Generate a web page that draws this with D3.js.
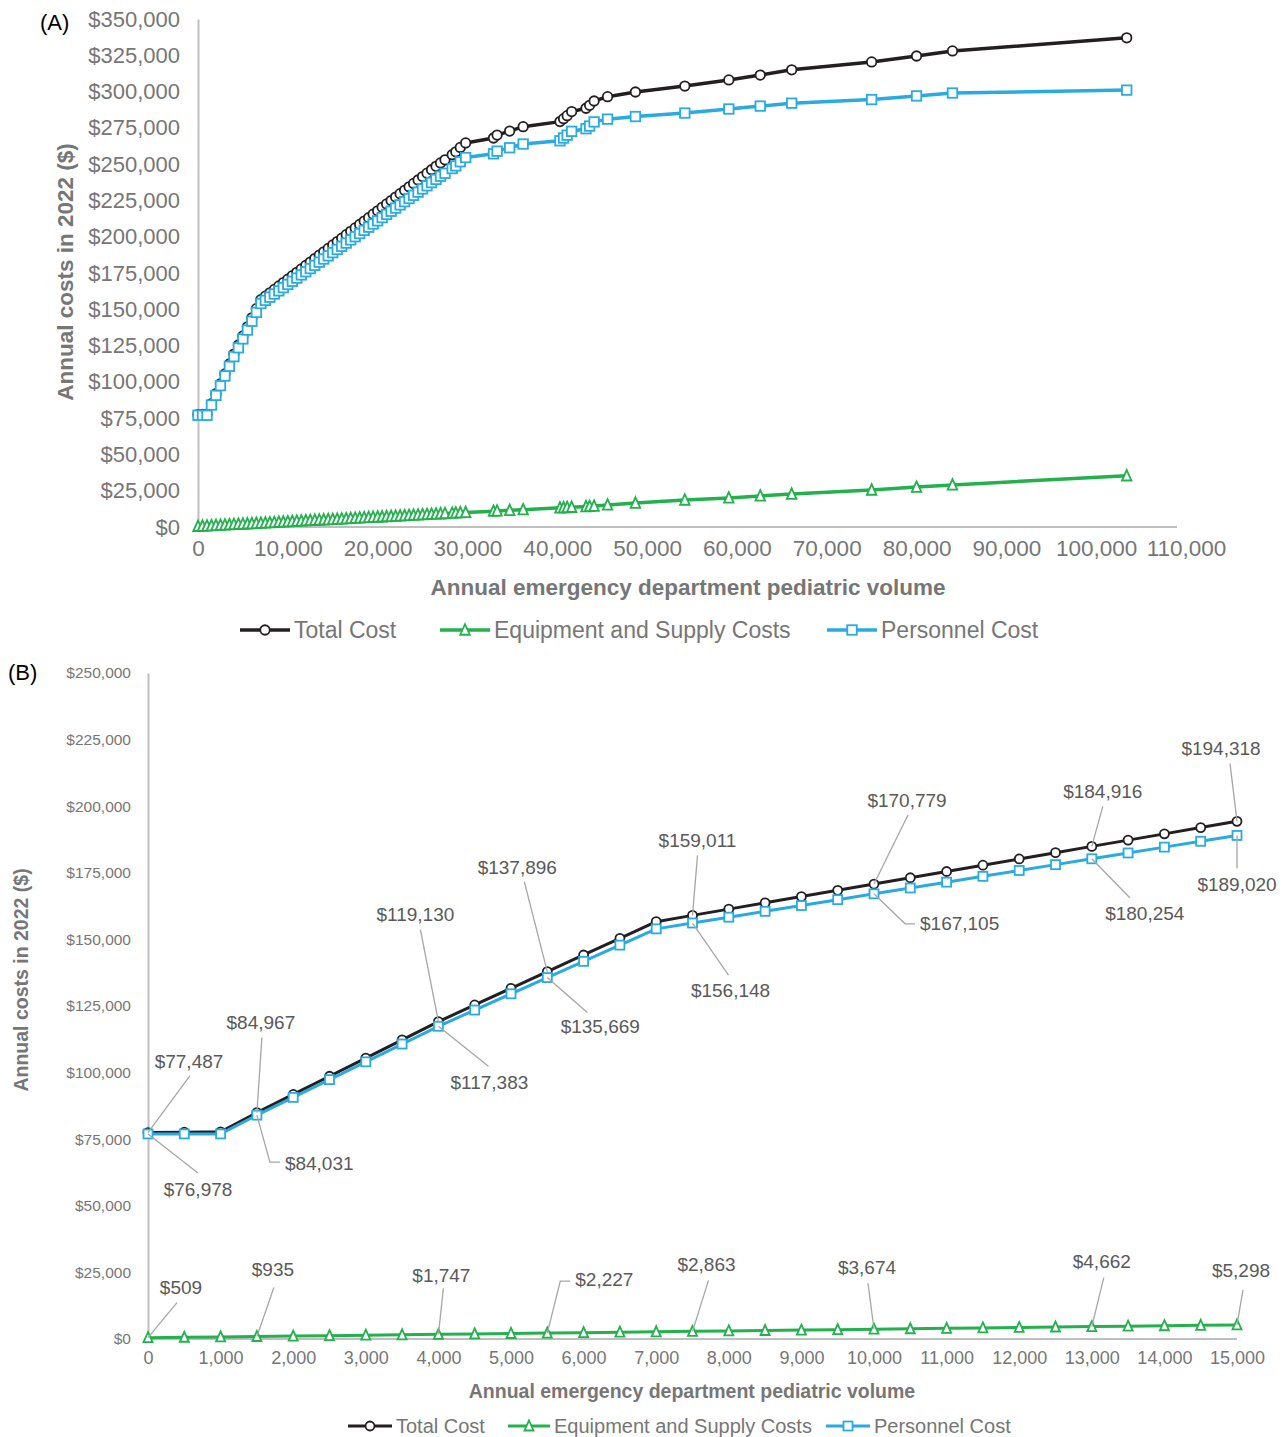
<!DOCTYPE html>
<html>
<head>
<meta charset="utf-8">
<script src="https://cdn.jsdelivr.net/npm/d3@7"></script>
<style>
  html, body { margin: 0; padding: 0; background: #fff; }
  svg { display: block; font-family: "Liberation Sans", Arial, sans-serif; }
</style>
</head>
<body>
<svg id="chart" width="1288" height="1437"></svg>
<script>
// ---------------- DATA ----------------
const seriesNames = ["Total Cost", "Equipment and Supply Costs", "Personnel Cost"];

// Panel B (0 - 15,000, every 500)
const volumeB = [0,500,1000,1500,2000,2500,3000,3500,4000,4500,5000,5500,6000,6500,7000,7500,
  8000,8500,9000,9500,10000,10500,11000,11500,12000,12500,13000,13500,14000,14500,15000];
const totalB = [77487,77629,77771,84967,91800,98630,105460,112300,119130,125385,131640,137896,
  144150,150400,156657,159011,161365,163720,166070,168425,170779,173135,175490,177845,180200,
  182560,184916,187266,189617,191967,194318];
const equipB = [509,651,793,935,1097,1260,1422,1585,1747,1907,2067,2227,2386,2545,2704,2863,
  3025,3187,3350,3512,3674,3839,4003,4168,4333,4497,4662,4821,4980,5139,5298];
const personnelB = [76978,76978,76978,84031,90703,97370,104038,110715,117383,123478,129573,
  135669,141764,147855,153953,156148,158340,160533,162720,164913,167105,169296,171487,173677,
  175867,178063,180254,182445,184637,186828,189020];

// Panel A continues the same series beyond 15,000
const volumeAExtra = [15500,16000,16500,17000,17500,18000,18500,19000,19500,20000,20500,21000,
  21500,22000,22500,23000,23500,24000,24500,25000,25500,26000,26500,27000,
  27500,28300,28700,29200,29800,32900,33300,34700,36200,40300,40700,41100,41600,43200,43600,
  44100,45600,48700,54200,59100,62600,66100,75000,80000,84000,103400];
const totalAExtra = [196670,199020,201380,203730,206090,208440,210800,213150,215510,217860,
  220220,222570,224930,227280,229640,231990,234350,236700,239060,241410,243770,246120,248480,
  250830,
  253000,256500,258500,261500,264600,268000,270000,272800,275800,279300,281300,283400,286200,
  288500,290500,293500,296500,299700,303800,308000,311400,315000,320400,324500,328000,337000];
const equipAExtra = [5458,5618,5778,5938,6098,6258,6418,6578,6738,6898,7058,7218,7378,7538,
  7698,7858,8018,8178,8338,8498,8658,8818,8978,9138,
  9300,9550,9700,9850,10050,10900,11050,11500,11950,13200,13300,13450,13600,14100,14250,14400,
  15200,16500,18600,20000,21400,22700,25500,27500,29000,35300];
const personnelAExtra = [191212,193402,195602,197792,199992,202182,204382,206572,208772,210962,
  213162,215352,217552,219742,221942,224132,226332,228522,230722,232912,235112,237302,239502,
  241692,
  243700,246950,248800,251650,254550,257100,258950,261300,263850,266100,268000,269950,272600,
  274400,276250,279100,281000,282800,285200,288000,290000,292000,294500,297000,299000,301000];

const volumeA = volumeB.concat(volumeAExtra);
const totalA = totalB.concat(totalAExtra);
const equipA = equipB.concat(equipAExtra);
const personnelA = personnelB.concat(personnelAExtra);

// Tick values
const yTicksA = [0,25000,50000,75000,100000,125000,150000,175000,200000,225000,250000,275000,300000,325000,350000];
const xTicksA = [0,10000,20000,30000,40000,50000,60000,70000,80000,90000,100000,110000];
const yTicksB = [0,25000,50000,75000,100000,125000,150000,175000,200000,225000,250000];
const xTicksB = [0,1000,2000,3000,4000,5000,6000,7000,8000,9000,10000,11000,12000,13000,14000,15000];

// Volumes whose values are labelled in panel B
const labelledVolumes = [0,1500,4000,5500,7500,10000,13000,15000];

// ---------------- STYLE / LAYOUT ----------------
const colors = ["#231f20", "#22b14c", "#29abe2"];
const markers = ["circle", "triangle", "square"];
const tickColor = "#767676";
const axisColor = "#bfbfbf";
const labelColor = "#595959";
const leaderColor = "#a6a6a6";

// label layout offsets (pixels, relative to the point): [textDx, textDy, leaderDx, leaderDy, elbowDx(optional), anchor]
const labelLayout = {
  0: [[41,-71,42,-57],[4,-90,5,-75],[-23,-107,-18,-92],[-30,-104,-23,-90],[5,-75,5,-60],[33,-84,34,-69],[11,-55,11,-40],[-16,-73,-7,-58]],
  2: [[50,55,50,39],[30,48,13,47,23,"start"],[51,56,50,40],[53,49,40,35],[38,67,36,52],[46,30,31,30,41,"start"],[53,55,38,39],[0,49,0,33]],
  1: [[33,-50,29,-35],[16,-67,17,-49],[3,-59,5,-46],[30,-54,13,-52,23,"start"],[14,-67,16,-51],[-7,-62,-6,-46],[10,-65,12,-49],[4,-55,6,-35]]
};

const svg = d3.select("#chart");
const fmtMoney = v => "$" + d3.format(",")(v);
const fmtNum = d3.format(",");

function drawMarker(g, type, x, y, color, s) {
  if (type === "circle") {
    g.append("circle").attr("cx", x).attr("cy", y).attr("r", s / 2)
      .attr("fill", "#fff").attr("stroke", color).attr("stroke-width", 1.8);
  } else if (type === "square") {
    g.append("rect").attr("x", x - s / 2).attr("y", y - s / 2).attr("width", s).attr("height", s)
      .attr("fill", "#fff").attr("stroke", color).attr("stroke-width", 1.8);
  } else {
    const h = s;
    g.append("path")
      .attr("d", `M${x},${y - h / 2 - 1} L${x + s / 2},${y + h / 2} L${x - s / 2},${y + h / 2} Z`)
      .attr("fill", "#fff").attr("stroke", color).attr("stroke-width", 1.8);
  }
}

function drawPanel(opt) {
  const g = svg.append("g");
  const x = d3.scaleLinear().domain(opt.xDomain).range([opt.left, opt.right]);
  const y = d3.scaleLinear().domain(opt.yDomain).range([opt.bottom, opt.top]);

  // y axis
  const yAxis = d3.axisLeft(y).tickValues(opt.yTicks).tickSize(0).tickPadding(opt.yPad).tickFormat(fmtMoney);
  const ya = g.append("g").attr("transform", `translate(${opt.left},0)`).call(yAxis);
  ya.select(".domain").attr("stroke", axisColor).attr("stroke-width", 2);
  ya.selectAll("text").attr("fill", tickColor).style("font-size", opt.yTickFont + "px")
    .style("font-family", "'Liberation Sans', Arial, sans-serif");

  // x axis
  const xAxis = d3.axisBottom(x).tickValues(opt.xTicks).tickSize(0).tickPadding(opt.xPad).tickFormat(fmtNum);
  const xa = g.append("g").attr("transform", `translate(0,${opt.bottom})`).call(xAxis);
  xa.select(".domain").attr("stroke", axisColor).attr("stroke-width", 2)
    .attr("d", `M${opt.left},0H${opt.axisEnd}`);
  xa.selectAll("text").attr("fill", tickColor).style("font-size", opt.xTickFont + "px")
    .style("font-family", "'Liberation Sans', Arial, sans-serif");

  // titles
  g.append("text").attr("x", opt.xTitleX).attr("y", opt.xTitleY).attr("text-anchor", "middle")
    .attr("fill", tickColor).style("font-weight", "bold").style("font-size", opt.titleFont + "px")
    .text("Annual emergency department pediatric volume");
  g.append("text").attr("transform", `translate(${opt.yTitleX},${opt.yTitleY}) rotate(-90)`)
    .attr("text-anchor", "middle").attr("fill", tickColor).style("font-weight", "bold")
    .style("font-size", opt.titleFont + "px").text("Annual costs in 2022 ($)");
  g.append("text").attr("x", opt.tagX).attr("y", opt.tagY).attr("fill", "#000")
    .style("font-size", opt.tagFont + "px").text(opt.tag);

  // series
  const line = d3.line().x(d => x(d[0])).y(d => y(d[1]));
  opt.series.forEach((vals, si) => {
    const pts = opt.volumes.map((v, i) => [v, vals[i]]);
    const sg = g.append("g");
    sg.append("path").datum(pts).attr("d", line).attr("fill", "none")
      .attr("stroke", colors[si]).attr("stroke-width", opt.lineWidth).attr("stroke-linejoin", "round");
    pts.forEach(p => drawMarker(sg, markers[si], x(p[0]), y(p[1]), colors[si], opt.markerSize));
  });

  // labels
  if (opt.labels) {
    const lg = g.append("g");
    [0, 2, 1].forEach(si => {
      const vals = opt.series[si];
      labelledVolumes.forEach((v, k) => {
        const i = opt.volumes.indexOf(v);
        const px = x(v), py = y(vals[i]);
        const L = labelLayout[si][k];
        let d = `M${px},${py} L${px + L[2]},${py + L[3]}`;
        if (L.length > 4) d += ` L${px + L[4]},${py + L[3]}`;
        lg.append("path").attr("d", d).attr("fill", "none").attr("stroke", leaderColor).attr("stroke-width", 1.3);
        const anchor = L[5] || "middle";
        const tx = anchor === "start" ? px + L[4] + 5 : px + L[0];
        lg.append("text").attr("x", tx).attr("y", py + L[1]).attr("dy", "0.35em")
          .attr("text-anchor", anchor).attr("fill", labelColor).style("font-size", "19px")
          .text(fmtMoney(vals[i]));
      });
    });
  }

  // legend
  const leg = g.append("g");
  opt.legend.forEach((it, si) => {
    leg.append("line").attr("x1", it[0]).attr("x2", it[1]).attr("y1", opt.legendY).attr("y2", opt.legendY)
      .attr("stroke", colors[si]).attr("stroke-width", opt.lineWidth);
    drawMarker(leg, markers[si], (it[0] + it[1]) / 2, opt.legendY, colors[si], opt.markerSize);
    leg.append("text").attr("x", it[1] + 4).attr("y", opt.legendY).attr("dy", "0.35em")
      .attr("fill", tickColor).style("font-size", opt.legendFont + "px").text(seriesNames[si]);
  });
}

// Panel A
drawPanel({
  tag: "(A)", tagX: 40, tagY: 30, tagFont: 22,
  xDomain: [0, 110000], yDomain: [0, 350000],
  left: 198, right: 1186, top: 19, bottom: 527, axisEnd: 1177,
  yTicks: yTicksA, xTicks: xTicksA, yPad: 18, xPad: 13,
  yTickFont: 22, xTickFont: 22.5, titleFont: 22.5,
  xTitleX: 688, xTitleY: 595, yTitleX: 73, yTitleY: 272,
  volumes: volumeA, series: [totalA, equipA, personnelA],
  lineWidth: 3.5, markerSize: 9.5, labels: false,
  legend: [[240, 290], [440, 490], [827, 877]], legendY: 630, legendFont: 23
});

// Panel B
drawPanel({
  tag: "(B)", tagX: 8, tagY: 680, tagFont: 22,
  xDomain: [0, 15000], yDomain: [0, 250000],
  left: 148, right: 1237, top: 673, bottom: 1339, axisEnd: 1237,
  yTicks: yTicksB, xTicks: xTicksB, yPad: 17, xPad: 12,
  yTickFont: 15.5, xTickFont: 18, titleFont: 19.5,
  xTitleX: 692, xTitleY: 1398, yTitleX: 28, yTitleY: 980,
  volumes: volumeB, series: [totalB, equipB, personnelB],
  lineWidth: 3, markerSize: 9, labels: true,
  legend: [[348, 392], [508, 550], [826, 870]], legendY: 1426, legendFont: 20
});
</script>
</body>
</html>
